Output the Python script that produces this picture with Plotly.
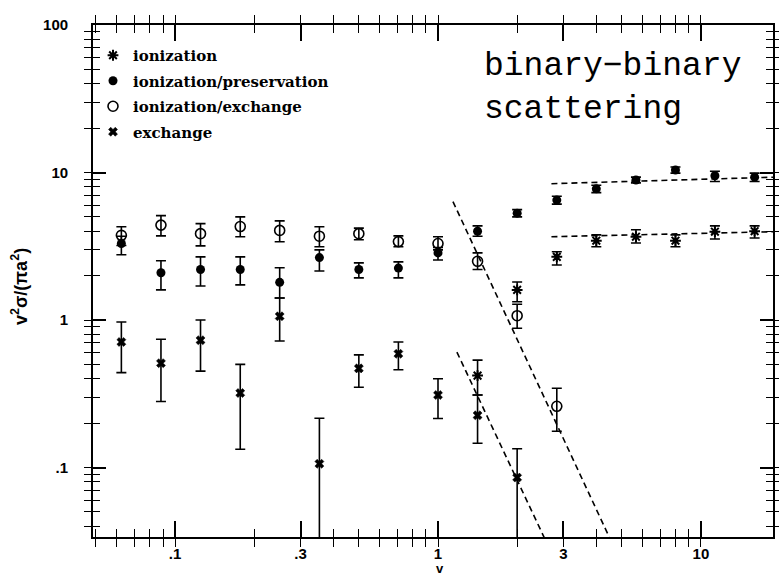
import plotly.graph_objects as go

# ---------------- data ----------------
v = [0.0625, 0.0884, 0.125, 0.177, 0.25, 0.354, 0.5, 0.707, 1.0, 1.414, 2.0, 2.83, 4.0, 5.66, 8.0, 11.3, 16.0]

# ionization (asterisk) – columns 10..17
ion_v = [1.414, 2.0, 2.83, 4.0, 5.66, 8.0, 11.3, 16.0]
ion_y = [0.42, 1.6, 2.68, 3.45, 3.67, 3.45, 3.97, 4.0]
ion_hi = [0.535, 1.81, 2.9, 3.78, 4.09, 3.78, 4.35, 4.35]
ion_lo = [0.31, 1.33, 2.36, 3.14, 3.33, 3.14, 3.54, 3.6]

# ionization/preservation (filled circle)
pres_v = v
pres_y = [3.3, 2.09, 2.2, 2.2, 1.8, 2.65, 2.2, 2.25, 2.85, 4.0, 5.3, 6.5, 7.75, 8.9, 10.4, 9.5, 9.3]
pres_hi = [3.7, 2.52, 2.68, 2.68, 2.26, 2.99, 2.44, 2.48, 3.1, 4.35, 5.6, 6.9, 8.2, 9.3, 10.9, 10.2, 9.9]
pres_lo = [2.77, 1.6, 1.7, 1.73, 1.41, 2.15, 1.93, 1.93, 2.55, 3.7, 5.0, 6.1, 7.3, 8.5, 9.9, 8.7, 8.7]

# ionization/exchange (open circle) – columns 1..12
exi_v = [0.0625, 0.0884, 0.125, 0.177, 0.25, 0.354, 0.5, 0.707, 1.0, 1.414, 2.0, 2.83]
exi_y = [3.75, 4.4, 3.85, 4.3, 4.05, 3.7, 3.85, 3.4, 3.3, 2.5, 1.07, 0.26]
exi_hi = [4.29, 5.1, 4.5, 5.0, 4.7, 4.29, 4.2, 3.72, 3.67, 2.85, 1.28, 0.345]
exi_lo = [3.2, 3.72, 3.18, 3.67, 3.39, 3.14, 3.5, 3.14, 2.99, 2.2, 0.88, 0.176]

# exchange (x) – columns 1..11
exc_v = [0.0625, 0.0884, 0.125, 0.177, 0.25, 0.354, 0.5, 0.707, 1.0, 1.414, 2.0]
exc_y = [0.71, 0.51, 0.73, 0.32, 1.06, 0.106, 0.47, 0.59, 0.31, 0.226, 0.0855]
exc_hi = [0.97, 0.74, 1.0, 0.50, 1.41, 0.216, 0.58, 0.71, 0.40, 0.31, 0.134]
exc_lo = [0.44, 0.28, 0.45, 0.133, 0.72, 0.02, 0.35, 0.46, 0.215, 0.146, 0.02]

# fitted dashed lines (endpoints in data units)
fit_pres_v = [2.7, 19.0]
fit_pres_y = [8.4, 9.3]
fit_ion_v = [2.7, 19.0]
fit_ion_y = [3.67, 3.97]
fit_exi_v = [1.14, 4.62]
fit_exi_y = [6.35, 0.03]
fit_exc_v = [1.18, 2.61]
fit_exc_y = [0.606, 0.03]

x_ticks = [0.1, 0.3, 1, 3, 10]
x_ticktext = [".1", ".3", "1", "3", "10"]
y_ticks = [0.1, 1, 10, 100]
y_ticktext = [".1", "1", "10", "100"]
x_minor = [0.05, 0.06, 0.07, 0.08, 0.09, 0.2, 0.4, 0.5, 0.6, 0.7, 0.8, 0.9,
           2, 4, 5, 6, 7, 8, 9]
y_minor = [0.04, 0.05, 0.06, 0.07, 0.08, 0.09, 0.2, 0.3, 0.4, 0.5, 0.6, 0.7, 0.8, 0.9,
           2, 3, 4, 5, 6, 7, 8, 9, 20, 30, 40, 50, 60, 70, 80, 90]

XR = [-1.312, 1.274]
YR = [-1.471, 2.0]

# ---------------- figure ----------------
def err(y, hi, lo):
    return dict(type="data", symmetric=False,
                array=[h - c for h, c in zip(hi, y)],
                arrayminus=[c - l for c, l in zip(y, lo)],
                color="black", thickness=1.6, width=5)

fig = go.Figure()

for fv, fy in [(fit_pres_v, fit_pres_y), (fit_ion_v, fit_ion_y),
               (fit_exi_v, fit_exi_y), (fit_exc_v, fit_exc_y)]:
    fig.add_trace(go.Scatter(x=fv, y=fy, mode="lines", showlegend=False,
                             line=dict(color="black", width=1.6, dash="6px,4px"),
                             hoverinfo="skip"))

fig.add_trace(go.Scatter(x=ion_v, y=ion_y, mode="markers", name="ionization",
                         legendgroup="a",
                         marker=dict(symbol="asterisk-open", size=9, color="black",
                                     line=dict(color="black", width=2)),
                         error_y=err(ion_y, ion_hi, ion_lo)))
fig.add_trace(go.Scatter(x=pres_v, y=pres_y, mode="markers", name="ionization/preservation",
                         legendgroup="b",
                         marker=dict(symbol="circle", size=9, color="black"),
                         error_y=err(pres_y, pres_hi, pres_lo)))
fig.add_trace(go.Scatter(x=exi_v, y=exi_y, mode="markers", name="ionization/exchange",
                         legendgroup="c",
                         marker=dict(symbol="circle-open", size=10, color="black",
                                     line=dict(color="black", width=1.6)),
                         error_y=err(exi_y, exi_hi, exi_lo)))
fig.add_trace(go.Scatter(x=exc_v, y=exc_y, mode="markers", name="exchange",
                         legendgroup="d",
                         marker=dict(symbol="x", size=8, color="black",
                                     line=dict(color="black", width=0.5)),
                         error_y=err(exc_y, exc_hi, exc_lo)))

# invisible traces carrying the long major-tick overlay axes
fig.add_trace(go.Scatter(x=[1], y=[1], xaxis="x2", yaxis="y", mode="markers",
                         marker=dict(opacity=0), showlegend=False, hoverinfo="skip"))
fig.add_trace(go.Scatter(x=[1], y=[1], xaxis="x", yaxis="y2", mode="markers",
                         marker=dict(opacity=0), showlegend=False, hoverinfo="skip"))

tickfont = dict(family="Liberation Sans", size=15, color="black", weight="bold")

x_all = sorted(x_ticks + x_minor)
x_all_text = [x_ticktext[x_ticks.index(t)] if t in x_ticks else "" for t in x_all]
y_all = sorted(y_ticks + y_minor)
y_all_text = [y_ticktext[y_ticks.index(t)] if t in y_ticks else "" for t in y_all]

fig.update_layout(
    xaxis=dict(type="log", range=XR, automargin=False,
               tickmode="array", tickvals=x_all, ticktext=x_all_text,
               ticks="inside", ticklen=8, tickwidth=1.3, tickcolor="black",
               showline=True, linecolor="black", linewidth=1.8, mirror="allticks",
               showgrid=False, zeroline=False, tickfont=tickfont, ticklabelstandoff=2),
    yaxis=dict(type="log", range=YR, automargin=False,
               tickmode="array", tickvals=y_all, ticktext=y_all_text,
               ticks="inside", ticklen=7, tickwidth=1.3, tickcolor="black",
               showline=True, linecolor="black", linewidth=1.8, mirror="allticks",
               showgrid=False, zeroline=False, tickfont=tickfont, ticklabelstandoff=20),
    xaxis2=dict(type="log", range=XR, overlaying="x", anchor="y", side="bottom",
                automargin=False, tickmode="array", tickvals=x_ticks,
                ticks="inside", ticklen=16, tickwidth=1.5, tickcolor="black",
                showticklabels=False, showline=False, mirror="allticks",
                showgrid=False, zeroline=False),
    yaxis2=dict(type="log", range=YR, overlaying="y", anchor="x", side="left",
                automargin=False, tickmode="array", tickvals=y_ticks,
                ticks="inside", ticklen=13, tickwidth=1.5, tickcolor="black",
                showticklabels=False, showline=False, mirror="allticks",
                showgrid=False, zeroline=False),
)

fig.add_annotation(text="v", xref="paper", yref="paper", x=(440 - 93) / 680, y=-(568 - 537) / 512,
                   showarrow=False, font=dict(family="Liberation Sans", size=13, color="black", weight="bold"),
                   xanchor="center", yanchor="middle")
fig.add_annotation(text="v<sup>2</sup>σ/(πa<sup>2</sup>)", xref="paper", yref="paper",
                   x=-(93 - 19) / 680, y=(537 - 287) / 512, textangle=-90,
                   showarrow=False, font=dict(family="Liberation Sans", size=18, color="black", weight="bold"),
                   xanchor="center", yanchor="middle")
fig.add_annotation(text="binary−binary<br>scattering", xref="paper", yref="paper",
                   x=(482 - 93) / 680, y=(537 - 46) / 512, align="left",
                   showarrow=False, font=dict(family="Liberation Mono", size=33, color="black"),
                   xanchor="left", yanchor="top")

fig.update_layout(
    width=779, height=575,
    margin=dict(l=93, r=6, t=25, b=38),
    paper_bgcolor="white", plot_bgcolor="white",
    showlegend=True,
    legend=dict(x=0, y=1 - 14 / 512, xanchor="left", yanchor="top", bgcolor="rgba(0,0,0,0)",
                font=dict(family="DejaVu Serif", size=15, color="black", weight="bold"),
                tracegroupgap=3, traceorder="grouped"),
)

fig.write_html("out.html", config={"displayModeBar": False},
               post_script="document.body.style.margin='0';document.body.style.padding='0';")
